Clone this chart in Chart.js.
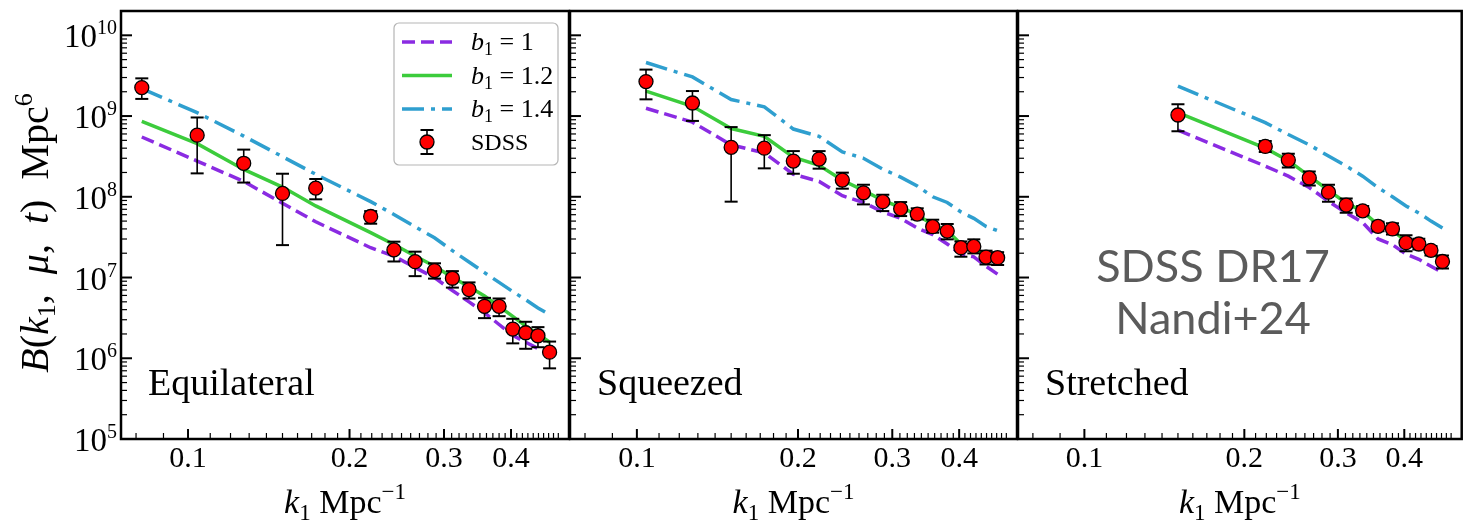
<!DOCTYPE html>
<html>
<head>
<meta charset="utf-8">
<script src="https://cdn.jsdelivr.net/npm/chart.js@4.4.1/dist/chart.umd.min.js"></script>
<style>
  html, body { margin: 0; padding: 0; background: #fff; }
  #wrap { position: relative; width: 1470px; height: 531px; }
  #wrap canvas { position: absolute; left: 0; top: 0; }
</style>
</head>
<body>
<div id="wrap">
  <canvas id="eqChart" width="1470" height="531"></canvas>
  <canvas id="sqChart" width="1470" height="531"></canvas>
  <canvas id="stChart" width="1470" height="531"></canvas>
</div>
<script>
// Eixos
const xTickValues = [0.1, 0.2, 0.3, 0.4];
const xTickLabels = ['0.1', '0.2', '0.3', '0.4'];
const yTickExps = [5, 6, 7, 8, 9, 10];

// Equilateral
const eqK = [0.082, 0.104, 0.127, 0.150, 0.173, 0.219, 0.242, 0.265, 0.288, 0.311, 0.334, 0.357, 0.380, 0.403, 0.426, 0.449, 0.472];
const eqSdss = [2.25e9, 5.8e8, 2.6e8, 1.1e8, 1.28e8, 5.7e7, 2.2e7, 1.57e7, 1.22e7, 9.8e6, 7.1e6, 4.4e6, 4.4e6, 2.3e6, 2.07e6, 1.9e6, 1.19e6];
const eqHi = [2.93e9, 9.6e8, 3.84e8, 1.93e8, 1.66e8, 6.65e7, 2.78e7, 2.09e7, 1.5e7, 1.2e7, 8.7e6, 5.6e6, 5.5e6, 3.08e6, 2.83e6, 2.43e6, 1.61e6];
const eqLo = [1.63e9, 1.95e8, 1.5e8, 2.52e7, 9.3e7, 4.64e7, 1.58e7, 1.04e7, 9.7e6, 7.5e6, 5.5e6, 3.14e6, 3.32e6, 1.53e6, 1.31e6, 1.37e6, 7.5e5];
const eqB10 = [5.5e8, 2.77e8, 1.55e8, 8.3e7, 4.9e7, 2.34e7, 1.84e7, 1.33e7, 9.95e6, 6.9e6, 5.0e6, 3.66e6, 2.62e6, 1.92e6, 1.58e6, 1.32e6, 1.14e6];
const eqB12 = [8.6e8, 4.55e8, 2.18e8, 1.32e8, 7.7e7, 3.6e7, 2.57e7, 1.85e7, 1.38e7, 1.01e7, 7.7e6, 5.9e6, 4.4e6, 3.3e6, 2.5e6, 2.0e6, 1.58e6];
const eqB14 = [2.19e9, 1.1e9, 5.65e8, 3.14e8, 1.9e8, 8.7e7, 6.05e7, 4.25e7, 3.11e7, 2.15e7, 1.56e7, 1.15e7, 8.7e6, 6.7e6, 5.3e6, 4.2e6, 3.46e6];

// Squeezed
const sqK = [0.104, 0.127, 0.150, 0.173, 0.196, 0.219, 0.242, 0.265, 0.288, 0.311, 0.334, 0.357, 0.380, 0.403, 0.426, 0.449, 0.472];
const sqSdss = [2.67e9, 1.45e9, 4.1e8, 4.0e8, 2.77e8, 2.93e8, 1.61e8, 1.12e8, 8.7e7, 7.1e7, 6.1e7, 4.26e7, 3.76e7, 2.34e7, 2.43e7, 1.79e7, 1.76e7];
const sqHi = [3.76e9, 2.04e9, 7.3e8, 5.8e8, 3.68e8, 3.68e8, 1.99e8, 1.41e8, 1.06e8, 8.6e7, 7.2e7, 5.2e7, 4.6e7, 2.8e7, 2.97e7, 2.15e7, 2.06e7];
const sqLo = [1.61e9, 8.7e8, 8.7e7, 2.25e8, 1.93e8, 2.23e8, 1.26e8, 8.05e7, 6.65e7, 5.77e7, 5.25e7, 3.59e7, 2.97e7, 1.81e7, 1.99e7, 1.45e7, 1.43e7];
const sqB10 = [1.25e9, 8.4e8, 4.4e8, 3.5e8, 1.9e8, 1.55e8, 1.03e8, 8.5e7, 6.5e7, 5.4e7, 4.1e7, 3.4e7, 2.6e7, 1.95e7, 1.8e7, 1.38e7, 1.1e7];
const sqB12 = [2.04e9, 1.32e9, 7.0e8, 5.6e8, 3.1e8, 2.45e8, 1.6e8, 1.2e8, 9.0e7, 7.4e7, 6.0e7, 4.5e7, 3.8e7, 2.6e7, 2.35e7, 1.85e7, 1.62e7];
const sqB14 = [4.6e9, 3.05e9, 1.6e9, 1.3e9, 6.9e8, 5.6e8, 3.6e8, 3.0e8, 2.2e8, 1.75e8, 1.36e8, 1.0e8, 8.5e7, 6.5e7, 5.4e7, 4.3e7, 3.8e7];

// Stretched
const stK = [0.150, 0.219, 0.242, 0.265, 0.288, 0.311, 0.334, 0.357, 0.380, 0.403, 0.426, 0.449, 0.472];
const stSdss = [1.03e9, 4.2e8, 2.85e8, 1.71e8, 1.14e8, 7.9e7, 6.7e7, 4.3e7, 4.0e7, 2.7e7, 2.6e7, 2.17e7, 1.58e7];
const stHi = [1.4e9, 4.9e8, 3.42e8, 2.05e8, 1.41e8, 9.5e7, 7.7e7, 4.9e7, 4.7e7, 3.33e7, 3.03e7, 2.45e7, 1.88e7];
const stLo = [6.5e8, 3.58e8, 2.3e8, 1.38e8, 8.7e7, 6.35e7, 5.9e7, 3.73e7, 3.42e7, 2.11e7, 2.23e7, 1.88e7, 1.29e7];
const stB10 = [6.7e8, 2.4e8, 1.8e8, 1.3e8, 8.8e7, 6.3e7, 4.8e7, 3.0e7, 2.55e7, 1.95e7, 1.68e7, 1.38e7, 1.15e7];
const stB12 = [1.1e9, 4.0e8, 2.8e8, 1.8e8, 1.2e8, 8.4e7, 6.6e7, 4.5e7, 3.85e7, 2.8e7, 2.55e7, 2.1e7, 1.6e7];
const stB14 = [2.35e9, 8.3e8, 5.9e8, 4.4e8, 3.2e8, 2.4e8, 1.8e8, 1.3e8, 1.0e8, 7.7e7, 6.3e7, 5.0e7, 4.1e7];

const PURPLE = '#8a2be2';
const GREEN = '#3ccc3c';
const BLUE = '#2f9fcf';
const SERIF = '"Liberation Serif", "Times New Roman", serif';
const W = 1470, H = 531;
const TOP = 11, BOTTOM = 439;

function fontOf(p, base) {
    return (p.it ? 'italic ' : '') + (p.size || base) + 'px ' + SERIF;
}

// texto com sub/sobrescritos
function drawParts(ctx, parts, x, y, base, align) {
    let w = 0;
    parts.forEach(p => { ctx.font = fontOf(p, base); w += ctx.measureText(p.t).width; });
    let cx = align === 'right' ? x - w : (align === 'center' ? x - w / 2 : x);
    ctx.textAlign = 'left';
    ctx.textBaseline = 'alphabetic';
    parts.forEach(p => {
        ctx.font = fontOf(p, base);
        ctx.fillText(p.t, cx, y + (p.dy || 0));
        cx += ctx.measureText(p.t).width;
    });
}

function line(ctx, x1, y1, x2, y2, lw) {
    ctx.lineWidth = lw;
    ctx.beginPath();
    ctx.moveTo(x1, y1);
    ctx.lineTo(x2, y2);
    ctx.stroke();
}

function drawErrorBar(ctx, x, yTop, yBot) {
    ctx.strokeStyle = '#000';
    line(ctx, x, yTop, x, yBot, 1.6);
    line(ctx, x - 6.5, yTop, x + 6.5, yTop, 2);
    line(ctx, x - 6.5, yBot, x + 6.5, yBot, 2);
}

const errorBars = {
    id: 'errorBars',
    beforeDatasetDraw(chart, args) {
        const ds = chart.data.datasets[args.index];
        if (!ds.errLo) return;
        const xs = chart.scales.x, ys = chart.scales.y, ca = chart.chartArea;
        const ctx = chart.ctx;
        ctx.save();
        ctx.beginPath();
        ctx.rect(ca.left, ca.top, ca.right - ca.left, ca.bottom - ca.top);
        ctx.clip();
        ds.data.forEach((p, i) => {
            drawErrorBar(ctx, xs.getPixelForValue(p.x), ys.getPixelForValue(ds.errHi[i]), ys.getPixelForValue(ds.errLo[i]));
        });
        ctx.restore();
    }
};

const panelDeco = {
    id: 'panelDeco',
    afterDraw(chart, args, opts) {
        const ctx = chart.ctx, ca = chart.chartArea;
        const xs = chart.scales.x, ys = chart.scales.y;
        ctx.save();
        ctx.strokeStyle = '#000';
        ctx.fillStyle = '#000';

        // ticks do eixo y (para dentro)
        yTickExps.forEach(e => {
            const y = ys.getPixelForValue(Math.pow(10, e));
            line(ctx, ca.left, y, ca.left + 11, y, 2);
            for (let m = 2; m <= 9; m++) {
                const v = m * Math.pow(10, e);
                if (v < ys.max) {
                    const ym = ys.getPixelForValue(v);
                    line(ctx, ca.left, ym, ca.left + 6, ym, 1.2);
                }
            }
            if (opts.yLabels) {
                drawParts(ctx, [{ t: '10' }, { t: String(e), size: 20, dy: -13 }], ca.left - 4, y + 12, 33, 'right');
            }
        });

        // ticks do eixo x
        xTickValues.forEach((v, i) => {
            const x = xs.getPixelForValue(v);
            line(ctx, x, ca.bottom, x, ca.bottom - 10, 2);
            drawParts(ctx, [{ t: xTickLabels[i] }], x, 467, 30, 'center');
        });
        for (let j = 8; j <= 50; j++) {
            if (j % 10 === 0) continue;
            const v = j / 100;
            if (v < xs.min || v > xs.max) continue;
            const x = xs.getPixelForValue(v);
            line(ctx, x, ca.bottom, x, ca.bottom - 6, 1.2);
        }

        // moldura
        ctx.lineWidth = 2.5;
        ctx.strokeRect(ca.left, ca.top, ca.right - ca.left, ca.bottom - ca.top);

        // titulo x
        const cx = (ca.left + ca.right) / 2;
        drawParts(ctx, [
            { t: 'k', it: true },
            { t: '1', size: 23, dy: 7 },
            { t: ' Mpc' },
            { t: '\u22121', size: 23, dy: -14 }
        ], cx, 513, 34, 'center');

        // nome do painel
        drawParts(ctx, [{ t: opts.name }], ca.left + 27, 395, 38, 'left');

        if (opts.yLabels) {
            ctx.save();
            ctx.translate(48, (ca.top + ca.bottom) / 2 + 8);
            ctx.rotate(-Math.PI / 2);
            drawParts(ctx, [
                { t: 'B', it: true },
                { t: '(' },
                { t: 'k', it: true },
                { t: '1', size: 26, dy: 7 },
                { t: ',  ' },
                { t: '\u03bc', it: true },
                { t: ',  ' },
                { t: 't', it: true },
                { t: ')  Mpc' },
                { t: '6', size: 26, dy: -16 }
            ], 0, 0, 40, 'center');
            ctx.restore();
        }

        if (opts.legend) drawLegend(chart, ctx);

        if (opts.stamp) {
            ctx.fillStyle = '#5b5b5b';
            ctx.font = '45px Lato, "Open Sans", sans-serif';
            ctx.textAlign = 'center';
            ctx.fillText('SDSS DR17', 1213, 282);
            ctx.fillText('Nandi+24', 1213, 334);
        }
        ctx.restore();
    }
};

function drawLegend(chart, ctx) {
    const bx = 394, by = 23, bw = 164, bh = 142;
    ctx.save();
    ctx.fillStyle = 'rgba(255,255,255,0.9)';
    ctx.strokeStyle = '#b5b5b5';
    ctx.lineWidth = 1.2;
    ctx.beginPath();
    ctx.roundRect(bx, by, bw, bh, 5);
    ctx.fill();
    ctx.stroke();

    const rows = [
        { ds: 1, val: '1', y: 42 },
        { ds: 2, val: '1.2', y: 75.5 },
        { ds: 3, val: '1.4', y: 109 }
    ];
    rows.forEach(r => {
        const ds = chart.data.datasets[r.ds];
        ctx.strokeStyle = ds.borderColor;
        ctx.setLineDash(ds.borderDash || []);
        ctx.lineWidth = ds.borderWidth;
        ctx.beginPath();
        ctx.moveTo(402, r.y);
        ctx.lineTo(452, r.y);
        ctx.stroke();
        ctx.setLineDash([]);
        ctx.fillStyle = '#000';
        drawParts(ctx, [
            { t: 'b', it: true },
            { t: '1', size: 18, dy: 5 },
            { t: ' = ' + r.val }
        ], 471, r.y + 8, 26, 'left');
    });

    // entrada SDSS
    const sy = 142;
    drawErrorBar(ctx, 427, sy - 12, sy + 12);
    ctx.fillStyle = 'red';
    ctx.strokeStyle = '#000';
    ctx.lineWidth = 1.3;
    ctx.beginPath();
    ctx.arc(427, sy, 7, 0, Math.PI * 2);
    ctx.fill();
    ctx.stroke();
    ctx.fillStyle = '#000';
    drawParts(ctx, [{ t: 'SDSS' }], 471, sy + 8, 24, 'left');
    ctx.restore();
}

function makePanel(id, left, right, k, sdss, lo, hi, b10, b12, b14, deco) {
    const pts = arr => k.map((x, i) => ({ x: x, y: arr[i] }));
    return new Chart(document.getElementById(id), {
        type: 'line',
        data: {
            datasets: [
                {
                    label: 'SDSS', data: pts(sdss), showLine: false, order: 0,
                    pointRadius: 7, pointBackgroundColor: 'red',
                    pointBorderColor: '#000', pointBorderWidth: 1.3,
                    errLo: lo, errHi: hi
                },
                { label: 'b1 = 1', data: pts(b10), borderColor: PURPLE, borderWidth: 3.5, borderDash: [13, 6], pointRadius: 0, order: 3 },
                { label: 'b1 = 1.2', data: pts(b12), borderColor: GREEN, borderWidth: 3.5, pointRadius: 0, order: 2 },
                { label: 'b1 = 1.4', data: pts(b14), borderColor: BLUE, borderWidth: 3.5, borderDash: [22, 7, 4, 7], pointRadius: 0, order: 1 }
            ]
        },
        options: {
            responsive: false,
            animation: false,
            devicePixelRatio: 1,
            events: [],
            layout: { padding: { left: 0, right: W - right, top: TOP, bottom: 0 } },
            scales: {
                x: {
                    type: 'logarithmic', min: 0.075, max: 0.513,
                    ticks: { display: false }, grid: { display: false }, border: { display: false },
                    afterFit: s => { s.height = H - BOTTOM; }
                },
                y: {
                    type: 'logarithmic', min: 1e5, max: 2e10,
                    ticks: { display: false }, grid: { display: false }, border: { display: false },
                    afterFit: s => { s.width = left; }
                }
            },
            plugins: {
                legend: { display: false },
                tooltip: { enabled: false },
                panelDeco: deco
            }
        },
        plugins: [errorBars, panelDeco]
    });
}

document.addEventListener('DOMContentLoaded', function() {
    makePanel('eqChart', 121, 569, eqK, eqSdss, eqLo, eqHi, eqB10, eqB12, eqB14,
        { name: 'Equilateral', yLabels: true, legend: true });
    makePanel('sqChart', 570, 1017, sqK, sqSdss, sqLo, sqHi, sqB10, sqB12, sqB14,
        { name: 'Squeezed' });
    makePanel('stChart', 1018, 1465, stK, stSdss, stLo, stHi, stB10, stB12, stB14,
        { name: 'Stretched', stamp: true });
});
</script>
</body>
</html>
